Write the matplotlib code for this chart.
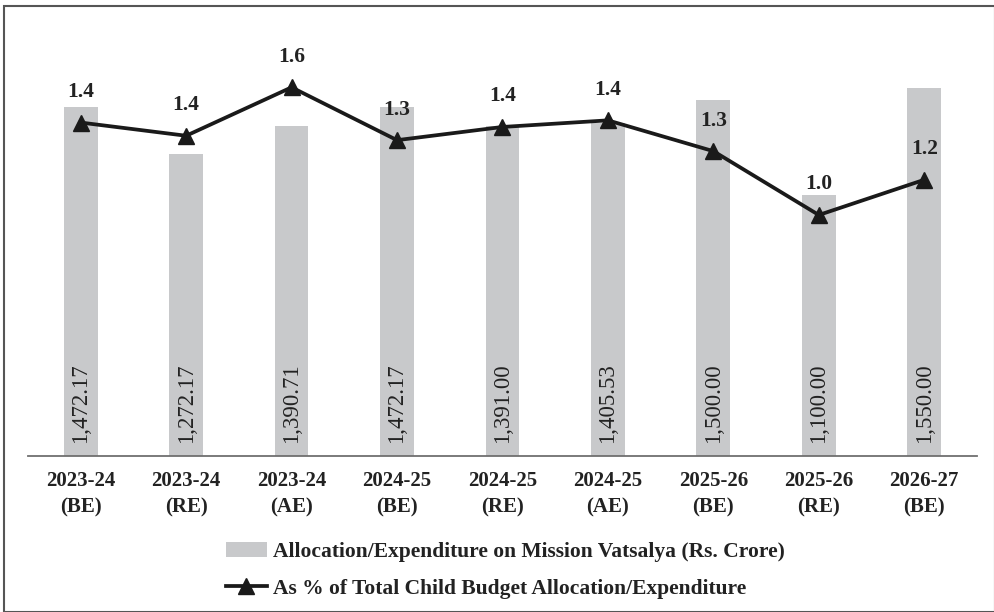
# Mission Vatsalya: allocation/expenditure bars + share of child budget line

import numpy as np
from matplotlib import pyplot as plt
from matplotlib.patches import Rectangle

years = ['2023-24\n(BE)', '2023-24\n(RE)', '2023-24\n(AE)', '2024-25\n(BE)', '2024-25\n(RE)',
         '2024-25\n(AE)', '2025-26\n(BE)', '2025-26\n(RE)', '2026-27\n(BE)']
allocation = [1472.17, 1272.17, 1390.71, 1472.17, 1391.00, 1405.53, 1500.00, 1100.00, 1550.00]
share_pct = [1.42, 1.36, 1.58, 1.34, 1.40, 1.43, 1.29, 1.00, 1.16]

bar_name = 'Allocation/Expenditure on Mission Vatsalya (Rs. Crore)'
line_name = 'As % of Total Child Budget Allocation/Expenditure'

plt.rcParams['font.family'] = ['Liberation Serif', 'DejaVu Serif']

fig = plt.figure(figsize=(9.95, 6.12), dpi=100)
ax = fig.add_axes([0.0281, 0.2549, 0.9538, 0.6977])

x = np.arange(len(years))
bars = ax.bar(x, allocation, width=0.32, color='#c8c9cb', label=bar_name, zorder=1)
ax.set_xlim(-0.5, len(years) - 0.5)
ax.set_ylim(0, 1800)
ax.set_yticks([])
for s in ['top', 'right', 'left']:
    ax.spines[s].set_visible(False)
ax.spines['bottom'].set_color('#6f6f6f')
ax.spines['bottom'].set_linewidth(1.3)
ax.set_xticks(x)
ax.set_xticklabels(years, fontsize=15, fontweight='bold', color='#222222', linespacing=1.4)
ax.tick_params(axis='x', length=0, pad=11)

for xi, v in zip(x, allocation):
    ax.text(xi, 55, f'{v:,.2f}', rotation=90, ha='center', va='bottom',
            fontsize=16.5, color='#222222', zorder=2)

ax2 = ax.twinx()
ax2.set_ylim(-0.095, 1.845)
ax2.axis('off')
line, = ax2.plot(x, share_pct, color='#1a1a1a', lw=2.7, marker='^', markersize=12,
                 label=line_name, zorder=3)
for xi, v in zip(x, share_pct):
    ax2.annotate(f'{v:.1f}', (xi, v), xytext=(0, 22), textcoords='offset points',
                 ha='center', va='center', fontsize=15.5, fontweight='bold', color='#222222')

fig.legend([bars, line], [bar_name, line_name], loc='center',
           bbox_to_anchor=(0.508, 0.068), frameon=False,
           prop={'size': 15.5, 'weight': 'bold'}, handlelength=1.9, handletextpad=0.3,
           labelspacing=0.75, labelcolor='#222222')

# frame round the figure
fig.patches.append(Rectangle((0.004, 0.0), 0.996, 0.991, transform=fig.transFigure,
                             fill=False, edgecolor='#555555', lw=1.5))

fig.savefig('out.png', dpi=100)
